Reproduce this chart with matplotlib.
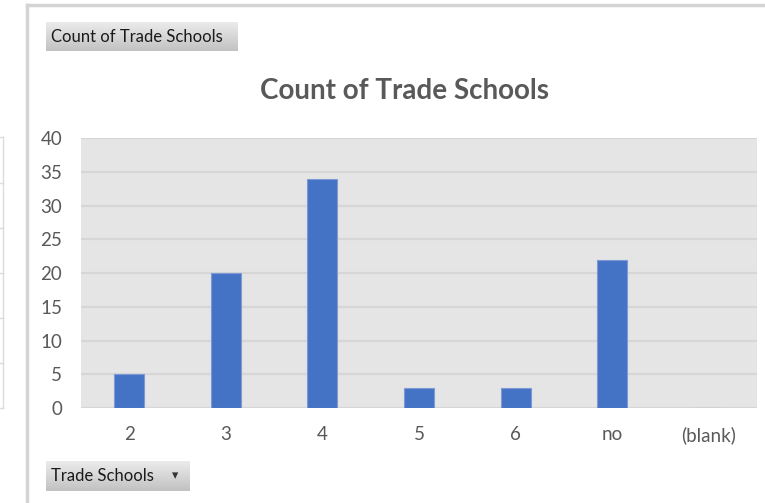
import matplotlib
matplotlib.use("Agg")
import matplotlib.pyplot as plt
import numpy as np
from matplotlib.lines import Line2D

categories = ["2", "3", "4", "5", "6", "no", "(blank)"]
counts = [5, 20, 34, 3, 3, 22, 0]
yticks = [0, 5, 10, 15, 20, 25, 30, 35, 40]

W, H = 765, 503
fig = plt.figure(figsize=(W / 100, H / 100), dpi=100)
fig.patch.set_facecolor("white")
FONT = ["Lato", "DejaVu Sans"]
TXT = "#595959"

def px(x, y, w, h):
    return [x / W, 1 - (y + h) / H, w / W, h / H]

# plot area
ax = fig.add_axes(px(81, 138, 676, 270))
ax.set_facecolor("#e5e5e5")
xs = list(range(len(categories)))
ax.bar(xs, counts, width=0.31, color="#4472c4", edgecolor="#7d9ad6", linewidth=0.8, zorder=3)
ax.set_xlim(-0.5, len(categories) - 0.5)
ax.set_ylim(0, 40)
ax.set_yticks(yticks)
ax.set_xticks(xs)
ax.set_xticklabels(categories)
ax.grid(axis="y", color="#d6d6d6", linewidth=1.6, zorder=1)
ax.set_axisbelow(True)
for s in ax.spines.values():
    s.set_visible(False)
ax.tick_params(length=0, colors=TXT, labelsize=13.5)
ax.tick_params(axis="x", pad=13)
ax.tick_params(axis="y", pad=13.5)
for lab in ax.get_xticklabels() + ax.get_yticklabels():
    lab.set_family(FONT)
    lab.set_color(TXT)

# title
fig.text(405 / W, 1 - 91 / H, "Count of Trade Schools", ha="center", va="center",
         fontsize=20, fontweight="bold", color=TXT, family=FONT)

# frame lines of the screenshot
fig.add_artist(Line2D([27 / W, 27 / W], [0, 1 - 5 / H], color="#d4d4d4", linewidth=2.5))
fig.add_artist(Line2D([27 / W, 1], [1 - 5 / H, 1 - 5 / H], color="#d4d4d4", linewidth=2.5))
fig.add_artist(Line2D([3 / W, 3 / W], [1 - 408 / H, 1 - 137 / H], color="#dcdcdc", linewidth=1))
for yy in [137, 183, 228, 273, 318, 363, 408]:
    fig.add_artist(Line2D([0, 3 / W], [1 - yy / H, 1 - yy / H], color="#dcdcdc", linewidth=1))

# pivot buttons
def button(x, y, w, h, label, arrow=False):
    bax = fig.add_axes(px(x, y, w, h))
    bax.set_xlim(0, 1)
    bax.set_ylim(0, 1)
    bax.axis("off")
    grad = np.linspace(0, 1, 50).reshape(-1, 1)
    bax.imshow(grad, extent=[0, 1, 0, 1], aspect="auto",
               cmap=matplotlib.colors.LinearSegmentedColormap.from_list("g", ["#c2c2c2", "#ebebeb"]),
               origin="lower")
    bax.text(5 / w, 0.5, label, ha="left", va="center", fontsize=12, color="#1a1a1a", family=FONT)
    if arrow:
        bax.text(1 - 15 / w, 0.52, "▾", ha="center", va="center", fontsize=9, color="#333333",
                 family=["DejaVu Sans"])

button(46, 22, 192, 29, "Count of Trade Schools")
button(46, 461, 144, 30, "Trade Schools", arrow=True)

fig.savefig("out.png", dpi=100, facecolor="white")
